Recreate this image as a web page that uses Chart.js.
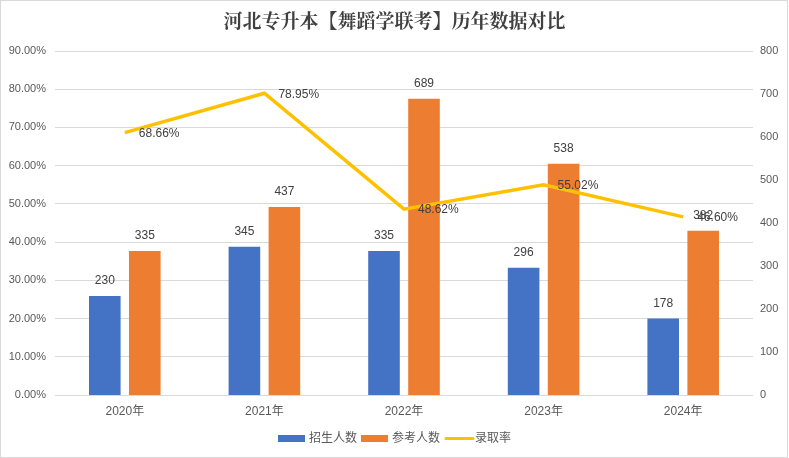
<!DOCTYPE html>
<html>
<head>
<meta charset="utf-8">
<script src="https://cdn.jsdelivr.net/npm/chart.js@4.4.1/dist/chart.umd.min.js"></script>
<style>
html,body{margin:0;padding:0;background:#fff;}
#wrap{width:789px;height:458px;position:relative;}
</style>
</head>
<body>
<div id="wrap"><canvas id="c" width="789" height="458"></canvas></div>
<script>
const titleText = '河北专升本【舞蹈学联考】历年数据对比';
const categories = ['2020年', '2021年', '2022年', '2023年', '2024年'];
const enrolled = [230, 345, 335, 296, 178];
const applicants = [335, 437, 689, 538, 382];
const admitRate = [68.66, 78.95, 48.62, 55.02, 46.60];
const seriesNames = ['招生人数', '参考人数', '录取率'];

const FONT = "'Liberation Sans', 'Noto Sans CJK SC', sans-serif";
const TXT = '#404040';
const TICK = '#595959';
const BLUE = '#4472C4', ORANGE = '#ED7D31', YELLOW = '#FFC000';

const decor = {
  id: 'decor',
  beforeDraw(chart) {
    const ctx = chart.ctx;
    ctx.save();
    ctx.fillStyle = '#fff';
    ctx.fillRect(0, 0, chart.width, chart.height);
    ctx.restore();
  },
  afterDatasetsDraw(chart) {
    const ctx = chart.ctx;
    ctx.save();
    ctx.font = '12px ' + FONT;
    ctx.fillStyle = TXT;
    [0, 1].forEach(di => {
      const meta = chart.getDatasetMeta(di);
      const data = chart.data.datasets[di].data;
      meta.data.forEach((el, i) => {
        ctx.textAlign = 'center';
        ctx.textBaseline = 'middle';
        ctx.fillText(String(data[i]), el.x, el.y - 15);
      });
    });
    const lm = chart.getDatasetMeta(2);
    const ld = chart.data.datasets[2].data;
    lm.data.forEach((el, i) => {
      ctx.textAlign = 'left';
      ctx.textBaseline = 'middle';
      ctx.fillText(ld[i].toFixed(2) + '%', el.x + 14, el.y + 1);
    });
    ctx.restore();
  },
  afterDraw(chart) {
    const ctx = chart.ctx;
    ctx.save();
    ctx.fillStyle = TXT;
    ctx.font = "bold 19px 'Noto Serif CJK SC', 'Noto Sans CJK SC', serif";
    ctx.textAlign = 'center';
    ctx.textBaseline = 'middle';
    ctx.fillText(titleText, chart.width / 2, 21);
    ctx.font = '12px ' + FONT;
    ctx.textBaseline = 'middle';
    ctx.textAlign = 'left';
    const items = [
      {name: seriesNames[0], color: BLUE, type: 'box'},
      {name: seriesNames[1], color: ORANGE, type: 'box'},
      {name: seriesNames[2], color: YELLOW, type: 'line'}
    ];
    const boxW = 27, gap = 4, between = 4;
    let total = 0;
    items.forEach((it, k) => {
      it.w = boxW + gap + ctx.measureText(it.name).width;
      total += it.w + (k ? between : 0);
    });
    let x = chart.width / 2 - total / 2;
    const y = 438;
    items.forEach(it => {
      if (it.type === 'box') {
        ctx.fillStyle = it.color;
        ctx.fillRect(x, y - 3, boxW, 7);
      } else {
        ctx.strokeStyle = it.color;
        ctx.lineWidth = 3;
        ctx.lineCap = 'round';
        ctx.beginPath();
        ctx.moveTo(x + 2, y + 0.5);
        ctx.lineTo(x + boxW + 2, y + 0.5);
        ctx.stroke();
      }
      ctx.fillStyle = TICK;
      ctx.fillText(it.name, x + boxW + gap, y + 1);
      x += it.w + between;
    });
    ctx.strokeStyle = '#d9d9d9';
    ctx.lineWidth = 1;
    ctx.strokeRect(0.5, 0.5, chart.width - 2, chart.height - 1);
    ctx.restore();
  }
};

new Chart(document.getElementById('c'), {
  data: {
    labels: categories,
    datasets: [
      {type: 'bar', label: seriesNames[0], data: enrolled, backgroundColor: BLUE, yAxisID: 'y1', order: 2,
       categoryPercentage: 0.573, barPercentage: 0.79},
      {type: 'bar', label: seriesNames[1], data: applicants, backgroundColor: ORANGE, yAxisID: 'y1', order: 2,
       categoryPercentage: 0.573, barPercentage: 0.79},
      {type: 'line', label: seriesNames[2], data: admitRate, borderColor: YELLOW, backgroundColor: YELLOW,
       borderWidth: 3.5, pointRadius: 0, tension: 0, yAxisID: 'y', order: 0, borderJoinStyle: 'miter'}
    ]
  },
  options: {
    responsive: false,
    animation: false,
    layout: {padding: {top: 51, bottom: 33, left: 0, right: 0}},
    plugins: {legend: {display: false}, title: {display: false}, tooltip: {enabled: false}},
    scales: {
      x: {
        grid: {display: false},
        border: {display: false},
        ticks: {color: TICK, font: {family: FONT, size: 12}, padding: 1},
        afterFit(s) { s.height = 30; }
      },
      y: {
        position: 'left', min: 0, max: 90,
        grid: {color: '#d9d9d9', drawTicks: false, lineWidth: 1},
        border: {display: false},
        ticks: {stepSize: 10, color: TICK, font: {family: FONT, size: 11}, padding: 9,
                callback: v => v.toFixed(2) + '%'},
        afterFit(s) { s.width = 55; }
      },
      y1: {
        position: 'right', min: 0, max: 800,
        grid: {display: false, drawTicks: false},
        border: {display: false},
        ticks: {stepSize: 100, color: TICK, font: {family: FONT, size: 11}, padding: 7},
        afterFit(s) { s.width = 36; }
      }
    }
  },
  plugins: [decor]
});
</script>
</body>
</html>
